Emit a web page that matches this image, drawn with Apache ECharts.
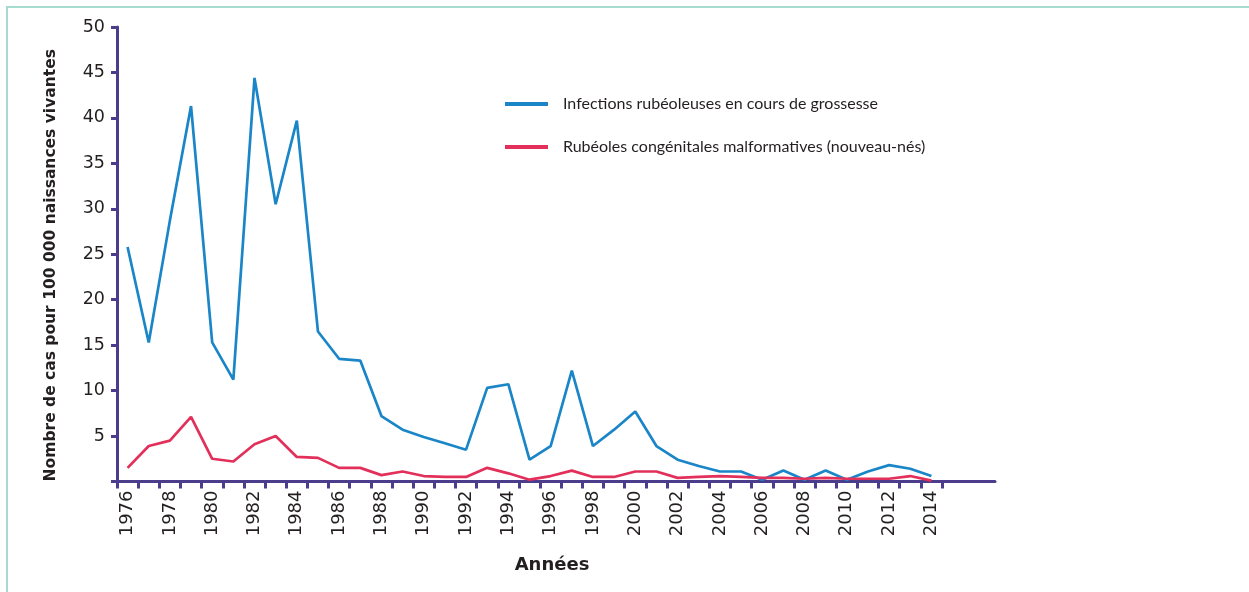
<!DOCTYPE html>
<html>
<head>
<meta charset="utf-8">
<script src="https://cdn.jsdelivr.net/npm/echarts@6/dist/echarts.min.js"></script>
<style>
html,body{margin:0;padding:0;background:#fff;}
#frame{position:absolute;left:6px;top:6px;width:1300px;height:700px;border-top:2px solid #a6dbd0;border-left:2px solid #a6dbd0;}
#chart{position:absolute;left:0;top:0;width:1249px;height:592px;}
</style>
</head>
<body>
<div id="frame"></div>
<div id="chart"></div>
<script>
const years = ["1976","1977","1978","1979","1980","1981","1982","1983","1984","1985","1986","1987","1988","1989","1990","1991","1992","1993","1994","1995","1996","1997","1998","1999","2000","2001","2002","2003","2004","2005","2006","2007","2008","2009","2010","2011","2012","2013","2014"];
const infectionsGrossesse = [25.8,15.3,28.7,41.3,15.3,11.2,44.4,30.5,39.7,16.5,13.5,13.3,7.2,5.7,4.9,4.2,3.5,10.3,10.7,2.4,3.9,12.2,3.9,5.7,7.7,3.9,2.4,1.7,1.1,1.1,0.2,1.2,0.2,1.2,0.2,1.1,1.8,1.4,0.6];
const rubeolesCongenitales = [1.5,3.9,4.5,7.1,2.5,2.2,4.1,5.0,2.7,2.6,1.5,1.5,0.7,1.1,0.6,0.5,0.5,1.5,0.9,0.2,0.6,1.2,0.5,0.5,1.1,1.1,0.4,0.5,0.6,0.5,0.4,0.4,0.3,0.4,0.3,0.3,0.3,0.6,0.1];
const yTicks = [0,5,10,15,20,25,30,35,40,45,50];
const seriesNames = ["Infections rubéoleuses en cours de grossesse","Rubéoles congénitales malformatives (nouveau-nés)"];

const axisColor = '#4b3c8c';
const textColor = '#231f20';
const numFont = 'DejaVu Sans';
const txtFont = 'Lato';

const chart = echarts.init(document.getElementById('chart'), null, {renderer:'canvas'});
chart.setOption({
  animation:false,
  grid:[
    {left:117, right:307, top:27, bottom:110.5},
    {left:117, right:254, top:27, bottom:110.5}
  ],
  legend:{
    orient:'vertical', left:505, top:94, itemGap:23, padding:0,
    icon:'rect', itemWidth:43, itemHeight:4,
    textStyle:{fontFamily:txtFont, fontSize:16, color:textColor, lineHeight:20, padding:[0,0,0,10]},
    data:seriesNames
  },
  title:{
    text:'Années', left:547, top:551, textAlign:'center',
    textStyle:{fontFamily:numFont, fontWeight:'bold', fontSize:18, color:textColor}
  },
  xAxis:[
    {
      type:'category', gridIndex:0, data:years, boundaryGap:true,
      axisLine:{lineStyle:{color:axisColor, width:3}},
      axisTick:{show:true, interval:0, length:7, lineStyle:{color:axisColor, width:3}},
      axisLabel:{interval:1, rotate:90, margin:9, fontFamily:numFont, fontSize:18, color:textColor}
    },
    {
      type:'value', gridIndex:1, min:0, max:1,
      axisLine:{show:true, lineStyle:{color:axisColor, width:3}},
      axisTick:{show:false}, axisLabel:{show:false}, splitLine:{show:false}
    }
  ],
  yAxis:[
    {
      type:'value', gridIndex:0, min:yTicks[0], max:yTicks[yTicks.length-1], interval:5,
      name:'Nombre de cas pour 100 000 naissances vivantes',
      nameLocation:'middle', nameRotate:90, nameGap:58,
      nameTextStyle:{fontFamily:numFont, fontWeight:'bold', fontSize:15.5, color:textColor, padding:[0,22,0,0]},
      axisLine:{show:true, lineStyle:{color:axisColor, width:3}},
      axisTick:{show:true, length:6, lineStyle:{color:axisColor, width:3}},
      axisLabel:{margin:12, fontFamily:numFont, fontSize:17.5, color:textColor,
        formatter:function(v){return v===0?'':String(v);}},
      splitLine:{show:false}
    },
    {
      type:'value', gridIndex:1, min:0, max:1, show:false
    }
  ],
  series:[
    {
      name:seriesNames[0], type:'line', xAxisIndex:0, yAxisIndex:0,
      data:infectionsGrossesse, symbol:'none',
      lineStyle:{color:'#1a86c8', width:2.7}, itemStyle:{color:'#1a86c8'}
    },
    {
      name:seriesNames[1], type:'line', xAxisIndex:0, yAxisIndex:0,
      data:rubeolesCongenitales, symbol:'none',
      lineStyle:{color:'#e2305a', width:2.7}, itemStyle:{color:'#e2305a'}
    }
  ]
});
</script>
</body>
</html>
